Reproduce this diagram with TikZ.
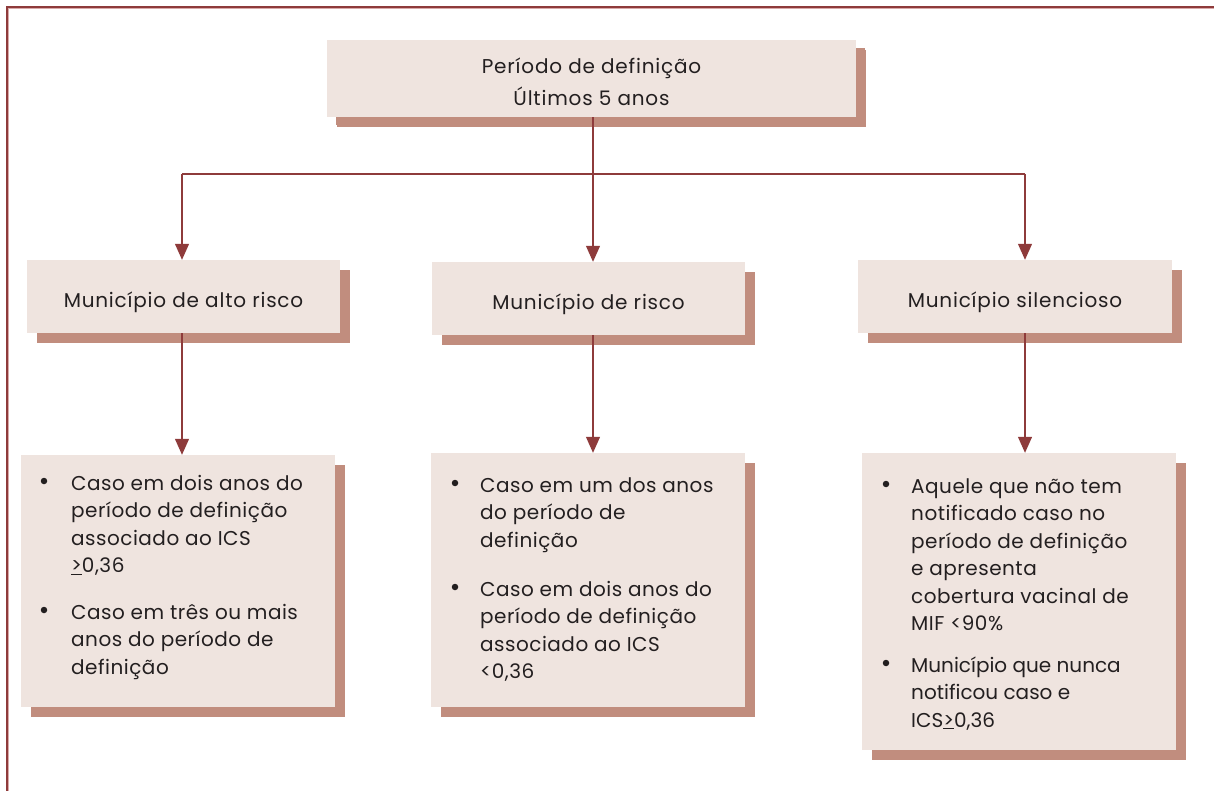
\documentclass[tikz,border=0pt]{standalone}
\usepackage{fontspec}
\setmainfont{Poppins}
\newfontfamily\trackitem[LetterSpace=2.5]{Poppins}
\newfontfamily\trackhead[LetterSpace=4]{Poppins}
\usetikzlibrary{arrows.meta,shadows}
\definecolor{frame}{HTML}{8E3B3B}
\definecolor{framelight}{HTML}{D9A9A9}
\definecolor{boxfill}{HTML}{EFE4DF}
\definecolor{shade}{HTML}{C18D7E}
\definecolor{ink}{HTML}{231F20}
\newcommand{\itemtext}[1]{\parbox[t]{270pt}{\raggedright #1}}
\newcommand{\lowered}[1]{\raisebox{-5pt}[\height][\depth]{\begin{tabular}{@{}c@{}}#1\end{tabular}}}
\begin{document}
\begin{tikzpicture}[x=1pt,y=-1pt,
  box/.style={fill=boxfill, draw=none, general shadow={fill=shade, shadow xshift=10pt, shadow yshift=-10pt},
    inner sep=0pt, font=\trackhead\fontsize{20}{32}\selectfont, text=ink, align=center},
  conn/.style={draw=frame, line width=1.2pt},
  arr/.style={conn, -{Triangle[width=14pt,length=16pt]}},
  item/.style={anchor=base west, inner sep=0pt, font=\trackitem\fontsize{20}{27.5}\selectfont, text=ink},
  dot/.style={circle, fill=ink, inner sep=0pt, minimum size=6.5pt}]
\useasboundingbox (0,0) rectangle (1214,791);
% frame
\draw[frame, line width=2pt] (7,791) -- (7,7) -- (1214,7);
\draw[framelight, line width=0.7pt] (8.8,791) -- (8.8,8.8) -- (1214,8.8);
% top
\node[box, minimum width=529pt, minimum height=77pt, general shadow={fill=shade, shadow xshift=9pt, shadow yshift=-8pt}] (top) at (591.5,78.5)
  {\lowered{Período de definição\\Últimos 5 anos}};
% row 2
\node[box, minimum width=313pt, minimum height=73pt] (b1) at (183.5,296.5) {\lowered{Município de alto risco}};
\node[box, minimum width=313pt, minimum height=73pt] (b2) at (588.5,298.5) {\lowered{Município de risco}};
\node[box, minimum width=314pt, minimum height=73pt] (b3) at (1015,296.5) {\lowered{Município silencioso}};
% row 3
\node[box, minimum width=314pt, minimum height=252pt] (c1) at (178,581) {};
\node[box, minimum width=314pt, minimum height=254pt] (c2) at (588,580) {};
\node[box, minimum width=314pt, minimum height=297pt] (c3) at (1019,601.5) {};
% connectors
\coordinate (hl) at (182,174);
\coordinate (hr) at (1025,174);
\coordinate (hm) at (593,174);
\draw[conn] (hl) -- (hr);
\draw[arr] (top.south -| hm) -- (hm |- b2.north);
\draw[arr] (hl) -- (hl |- b1.north);
\draw[arr] (hr) -- (hr |- b3.north);
\draw[arr] (hl |- b1.south) -- (hl |- c1.north);
\draw[arr] (hm |- b2.south) -- (hm |- c2.north);
\draw[arr] (hr |- b3.south) -- (hr |- c3.north);
% items c1
\node[dot] (d11) at (44,481) {};
\node[item] (t11) at (71,490) {\itemtext{Caso em dois anos do\\período de definição\\associado ao ICS\\\underline{>}0,36}};
\node[dot] (d12) at (44,610) {};
\node[item] (t12) at (71,619) {\itemtext{Caso em três ou mais\\anos do período de\\definição}};
% items c2
\node[dot] (d21) at (455,483) {};
\node[item] (t21) at (480,492) {\itemtext{Caso em um dos anos\\do período de\\definição}};
\node[dot] (d22) at (455,587) {};
\node[item] (t22) at (480,596) {\itemtext{Caso em dois anos do\\período de definição\\associado ao ICS\\<0,36}};
% items c3
\node[dot] (d31) at (886,484) {};
\node[item] (t31) at (911,493) {\itemtext{Aquele que não tem\\notificado caso no\\período de definição\\e apresenta\\cobertura vacinal de\\MIF <90\%}};
\node[dot] (d32) at (886,663) {};
\node[item, font=\fontsize{20}{27.5}\selectfont] (t32) at (911,672) {\itemtext{Município que nunca\\notificou caso e\\ICS\underline{>}0,36}};
\end{tikzpicture}
\end{document}
